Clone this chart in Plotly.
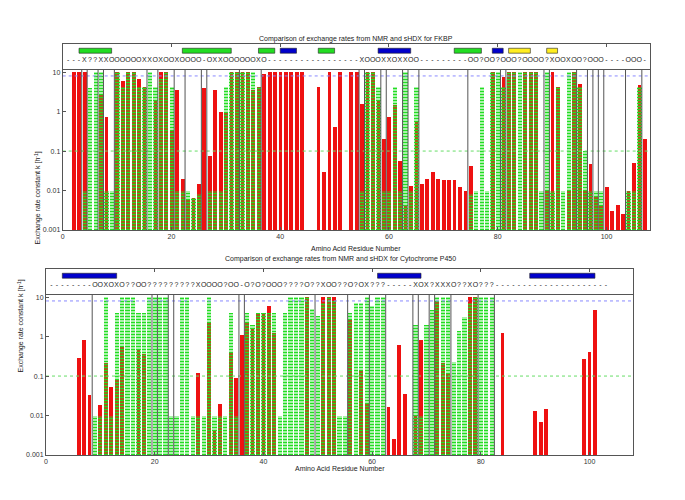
import math
import plotly.graph_objects as go

# ---------------- FKBP (top panel) ----------------
res_fkbp = list(range(1, 108))
nmr_fkbp = [None, 10, 10, 10, None, None, 2.6, 0.75, None, 10,
            5.8, 10, 10, 6.8, 4.2, None, 2.0, 10, 10, 0.33,
            3.5, 0.02, 0.006, 0.0065, 0.015, 4.0, 0.076, 3.6, 1.0, 1.0,
            10, 10, 10, 10, 3.6, 4.2, 9.0, 10, 10, 10,
            10, 10, 10, 10, None, None, 4.2, 0.03, 10, 0.41,
            10, None, 10, 10, 1.6, 10, 10, 2.0, 0.2, 0.73,
            1.5, 0.056, 0.0044, 0.013, 0.57, 0.015, 0.02, 0.03, 0.02, 0.018,
            0.018, 0.018, 0.012, 0.01, 0.041, None, None, None, 10, None,
            7.5, 10, 10, None, 10, 10, 10, None, 0.01, 10,
            4.2, None, 0.01, 10, 5.0, 0.01, 0.048, 0.007, 0.004, 0.012,
            0.003, 0.0043, 0.0026, 0.01, 0.05, 4.6, 0.2]
hdx_fkbp = [None, None, None, 0.01, 4.0, 10, 10, 0.01, 0.01, 10,
            4.2, 10, 10, 4.2, 4.2, 10, 4.2, 6.8, 10, 4.2,
            0.01, 0.01, 0.01, 0.0065, 0.008, None, 0.01, 0.01, 0.01, 4.2,
            10, 10, 10, 10, 10, 4.2, None, None, None, None,
            None, None, None, None, None, None, None, None, None, None,
            None, None, None, None, 0.01, 10, 10, 4.2, 0.01, 0.01,
            4.2, 0.01, 10, 0.01, 4.2, None, None, None, None, None,
            None, None, None, None, 0.008, 0.01, 4.2, 0.01, 10, 10,
            4.2, 10, 10, 10, 10, 10, 10, 0.01, 10, 0.01,
            4.2, 0.01, 10, 10, 4.2, 0.1, 0.01, 0.01, 0.01, None,
            None, None, None, 0.01, 0.01, 4.2, None]
sym_fkbp = ("---" + "X??XX" + "OOOOOO" + "XXOXOOX" + "OOOO" + "-" + "OXX" + "OOOOOO" + "XO"
            + "-----------------" + "XOOOXXOXXOO" + "---------"
            + "OO?OO?OOO?OOOO?XOOXOO?OOO" + "----" + "OOO" + "-")
sep_fkbp = [3.5, 4.5, 6.5, 7.5, 9.5, 15.5, 17.5, 20.5, 22.5, 25.5, 26.5, 32.5, 36.5,
            54.5, 55.5, 58.5, 59.5, 62.5, 63.5, 65.5, 74.5, 80.5, 81.5, 88.5, 89.5,
            94.5, 96.5, 97.5, 98.5, 99.5, 103.5, 106.5]
ss_fkbp_start = [3, 22, 36, 47, 72, 40, 58, 79, 82, 89]
ss_fkbp_end = [9, 31, 39, 50, 77, 43, 64, 81, 86, 91]
ss_fkbp_kind = ["E", "E", "E", "E", "E", "H", "H", "H", "Y", "Y"]

# ---------------- Cytochrome P450 (bottom panel) ----------------
res_p450 = list(range(1, 104))
nmr_p450 = [None, None, None, None, None, 0.28, 0.83, 0.034, None, 0.018,
            0.21, 0.052, 0.084, 0.53, None, None, 0.46, 0.37, None, None,
            None, None, None, None, None, None, None, 0.117, None, 2.2,
            0.0043, 0.02, None, 0.38, 0.09, 1.1, 2.2, 1.6, 4.0, 4.0,
            5.8, 1.2, None, None, None, None, None, 10, None, None,
            10, 10, 10, None, None, 2.8, None, 0.14, 0.02, None,
            None, None, 0.016, 0.0026, 0.62, 0.035, None, 0.01, 0.8, None,
            None, 7.8, 0.21, 0.11, None, None, None, 10, 10, None,
            None, None, None, 1.2, None, None, None, None, None, 0.013,
            0.007, 0.015, None, None, None, None, None, None, 0.27, 0.4,
            4.6, None, None]
hdx_p450 = [None, None, None, None, None, None, None, None, 0.01, 0.01,
            10, 0.01, 4.0, 10, 10, 10, 4.0, 4.0, 10, 10,
            10, 10, 0.01, 0.01, 10, 10, 0.01, 0.01, 0.01, 10,
            0.01, 0.01, 0.01, 4.0, 0.01, None, 4.0, 2.0, 4.0, 4.0,
            4.0, 4.0, 0.01, 4.0, 10, 10, 10, 10, 5.0, 3.4,
            7.0, 10, 7.8, 0.01, 0.01, 4.0, 7.0, 7.0, 10, 5.8,
            10, 10, None, None, None, None, None, 2.0, 0.01, 2.0,
            4.8, 10, 10, 10, 0.23, 1.35, 3.2, 7.0, 10, 10,
            10, 10, None, None, None, None, None, None, None, None,
            None, None, None, None, None, None, None, None, None, None,
            None, None, None]
sym_p450 = ("--------" + "OOXOXO??OO" + "?????????" + "X" + "OOOO?OO" + "-"
            + "O?O?OOO????O??XOO??O?OX???" + "-----" + "XOX?XXXO??XO???"
            + "---------------------")
sep_p450 = [8.5, 19.5, 20.5, 22.5, 23.5, 35.5, 36.5, 49.5, 55.5, 59.5, 62.5,
            67.5, 68.5, 70.5, 71.5, 74.5, 79.5, 82.5]
ss_p450_start = [3, 61, 89]
ss_p450_end = [13, 69, 101]
ss_p450_kind = ["H", "H", "H"]

titles = ["Comparison of exchange rates from NMR and sHDX for FKBP",
          "Comparison of exchange rates from NMR and sHDX for Cytochrome P450"]
xtick_vals = [0, 20, 40, 60, 80, 100]
ytick_vals = [0.001, 0.01, 0.1, 1, 10]
ytick_text = ["0.001", "0.01", "0.1", "1", "10"]
ref_fast = 8
ref_mid = 0.1

# page body has an 8px margin: the figure itself starts at (8, 8)
OFF = 8
W, H = 685 - OFF, 500 - OFF
FONT = "Liberation Sans"
SS_COL = {"E": "#22dd22", "H": "#0000cc", "Y": "#ffee22"}

fig = go.Figure()


def px_x(p):
    return (p - OFF) / W


def px_y(p):
    return 1 - (p - OFF) / H


panels = [
    dict(res=res_fkbp, nmr=nmr_fkbp, hdx=hdx_fkbp, sym=sym_fkbp, sep=sep_fkbp,
         ss=(ss_fkbp_start, ss_fkbp_end, ss_fkbp_kind),
         xl=62.7, xr=650, strip_top=44.3, main_top=69, main_bot=230,
         ax="", sax="3", title_xy=(356, 33), xlab_y=248.5, ytitle_x=31),
    dict(res=res_p450, nmr=nmr_p450, hdx=hdx_p450, sym=sym_p450, sep=sep_p450,
         ss=(ss_p450_start, ss_p450_end, ss_p450_kind),
         xl=46, xr=633, strip_top=269.3, main_top=294, main_bot=455,
         ax="2", sax="4", title_xy=(340, 259), xlab_y=473.5, ytitle_x=14),
]

shapes = []
annotations = []
layout_axes = {}

for i, P in enumerate(panels):
    xa = "x" + P["ax"]
    ya = "y" + P["ax"]
    sxa = "x" + P["sax"]
    sya = "y" + P["sax"]
    # NMR red bars
    fig.add_trace(go.Bar(x=P["res"], y=P["nmr"], xaxis=xa, yaxis=ya, width=0.7,
                         marker=dict(color="#ee1111", line=dict(width=0)),
                         hoverinfo="skip"))
    # sHDX patterned bars
    fig.add_trace(go.Bar(x=P["res"], y=P["hdx"], xaxis=xa, yaxis=ya, width=0.78,
                         marker=dict(color="rgba(0,0,0,0)", line=dict(width=0),
                                     pattern=dict(shape="-", fgcolor="#22dd22",
                                                  bgcolor="rgba(0,0,0,0)",
                                                  fillmode="replace",
                                                  size=3, solidity=0.6)),
                         hoverinfo="skip"))
    # reference lines
    fig.add_trace(go.Scatter(x=[0, 108], y=[ref_fast, ref_fast], xaxis=xa, yaxis=ya,
                             mode="lines", line=dict(color="#8a8aff", width=1, dash="dot"),
                             hoverinfo="skip"))
    fig.add_trace(go.Scatter(x=[0, 108], y=[ref_mid, ref_mid], xaxis=xa, yaxis=ya,
                             mode="lines", line=dict(color="#66dd66", width=1, dash="dot"),
                             hoverinfo="skip"))
    # symbol row
    nsym = len(P["sym"])
    fig.add_trace(go.Scatter(x=P["res"][:nsym], y=[0.36] * nsym,
                             text=list(P["sym"]), mode="text", xaxis=sxa, yaxis=sya,
                             textfont=dict(size=7, family=FONT, color="#222222"),
                             hoverinfo="skip"))
    # separators
    for s in P["sep"]:
        shapes.append(dict(type="line", xref=xa, yref=ya + " domain", x0=s, x1=s,
                           y0=0, y1=1, line=dict(color="#555555", width=1), layer="above"))
    # secondary structure
    st, en, kd = P["ss"]
    for a, b, k in zip(st, en, kd):
        shapes.append(dict(type="rect", xref=sxa, yref=sya, x0=a, x1=b, y0=0.64, y1=0.84,
                           fillcolor=SS_COL[k], line=dict(color="#222222", width=0.6)))

    xdom = [px_x(P["xl"]), px_x(P["xr"])]
    common = dict(showgrid=False, zeroline=False, showline=True, linecolor="#555555",
                  linewidth=1, automargin=False)
    layout_axes["xaxis" + P["ax"]] = dict(domain=xdom, range=[0, 108], anchor=ya,
                                          tickvals=xtick_vals, ticks="inside", ticklen=3,
                                          tickcolor="#555555", mirror=False,
                                          tickfont=dict(size=7, family=FONT, color="#333333"),
                                          **common)
    layout_axes["yaxis" + P["ax"]] = dict(domain=[px_y(P["main_bot"]), px_y(P["main_top"])],
                                          type="log", range=[-3, math.log10(12)], anchor=xa,
                                          tickvals=ytick_vals, ticktext=ytick_text,
                                          ticks="inside", ticklen=3, tickcolor="#555555",
                                          mirror=True,
                                          tickfont=dict(size=7, family=FONT, color="#333333"),
                                          **common)
    layout_axes["xaxis" + P["sax"]] = dict(domain=xdom, range=[0, 108], anchor=sya,
                                           side="top", tickvals=xtick_vals[1:], ticks="inside",
                                           ticklen=3, tickcolor="#555555", mirror=True,
                                           showticklabels=False, **common)
    layout_axes["yaxis" + P["sax"]] = dict(domain=[px_y(P["main_top"]), px_y(P["strip_top"])],
                                           range=[0, 1], anchor=sxa, showticklabels=False,
                                           ticks="", mirror=True, **common)
    # texts
    tx, ty = P["title_xy"]
    annotations.append(dict(text=titles[i], x=px_x(tx), y=px_y(ty),
                            xref="paper", yref="paper", showarrow=False,
                            font=dict(size=7, family=FONT, color="#222222")))
    annotations.append(dict(text="Amino Acid Residue Number", x=px_x((P["xl"] + P["xr"]) / 2),
                            y=px_y(P["xlab_y"]), xref="paper", yref="paper", showarrow=False,
                            font=dict(size=7, family=FONT, color="#222222")))
    annotations.append(dict(text="Exchange rate constant k [h<sup>-1</sup>]",
                            x=px_x(P["ytitle_x"]),
                            y=px_y((P["main_top"] + P["main_bot"]) / 2),
                            xref="paper", yref="paper", showarrow=False, textangle=-90,
                            font=dict(size=7, family=FONT, color="#222222")))

fig.update_layout(width=W, height=H, margin=dict(l=0, r=0, t=0, b=0),
                  paper_bgcolor="white", plot_bgcolor="white", showlegend=False,
                  barmode="overlay", bargap=0, shapes=shapes, annotations=annotations,
                  **layout_axes)
fig.write_html("out.html")
